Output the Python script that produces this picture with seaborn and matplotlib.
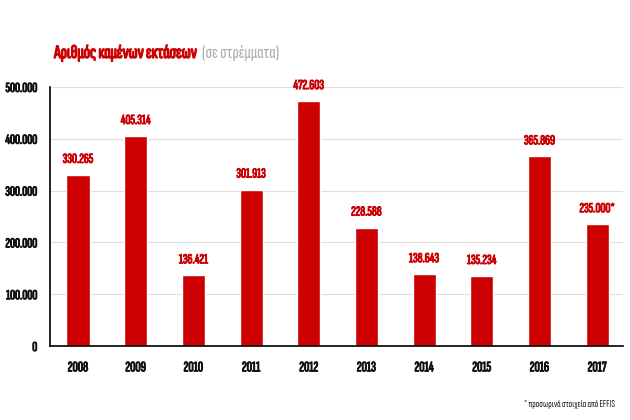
import matplotlib
matplotlib.use("Agg")
import matplotlib.pyplot as plt
import matplotlib.patheffects as pe
import seaborn as sns
import pandas as pd

years = ["2008", "2009", "2010", "2011", "2012", "2013", "2014", "2015", "2016", "2017"]
values = [330265, 405314, 136421, 301913, 472603, 228588, 138643, 135234, 365869, 235000]
labels = ["330.265", "405.314", "136.421", "301.913", "472.603", "228.588",
          "138.643", "135.234", "365.869", "235.000*"]
yticks = [0, 100000, 200000, 300000, 400000, 500000]
ytick_labels = ["0", "100.000", "200.000", "300.000", "400.000", "500.000"]

sns.set_style("white")
# narrow font, with condensed DejaVu as a fallback
plt.rcParams['font.family'] = ['Sofia Sans Extra Condensed', 'DejaVu Sans']
plt.rcParams['font.stretch'] = 'condensed'

red = "#cc0000"
dark = "#111111"
df = pd.DataFrame({"year": years, "value": values})


def thick(color, w=0.7):
    # fake a heavier weight than the font files offer
    return [pe.withStroke(linewidth=w, foreground=color)]


fig = plt.figure(figsize=(6.3, 4.2), dpi=100)
ax = fig.add_axes([0.079, 0.176, 0.91, 0.617])
sns.barplot(data=df, x="year", y="value", color=red, width=0.4, saturation=1, ax=ax)

ax.set_ylim(0, 500000)
ax.set_xlim(-0.49, 9.45)
ax.set_yticks(yticks)
ax.set_yticklabels(ytick_labels)
ax.yaxis.grid(True, color="#dddddd", linewidth=0.8)
ax.set_axisbelow(True)
for s in ["top", "right"]:
    ax.spines[s].set_visible(False)
ax.spines["left"].set_color("black")
ax.spines["bottom"].set_color("black")
ax.spines["left"].set_linewidth(1.2)
ax.spines["bottom"].set_linewidth(1.2)
ax.set_xlabel("")
ax.set_ylabel("")
ax.tick_params(axis="y", length=0, labelsize=10, pad=9)
ax.tick_params(axis="x", length=0, labelsize=10.5, pad=11)
for t in ax.get_xticklabels() + ax.get_yticklabels():
    t.set_fontweight("bold")
    t.set_color(dark)
    t.set_path_effects(thick(dark))

for i, (v, lab) in enumerate(zip(values, labels)):
    ax.annotate(lab, (i, v), xytext=(0, 6.5), textcoords="offset points",
                ha="center", va="bottom", color=red, fontsize=10, fontweight="bold",
                path_effects=thick(red))

title = fig.text(0.086, 0.862, "Αριθμός καμένων εκτάσεων", color=red, fontsize=13.5,
                 fontweight="bold", ha="left", va="baseline", path_effects=thick(red, 0.9))
ax.annotate("(σε στρέμματα)", xy=(1, 0), xycoords=title, xytext=(4, 0),
            textcoords="offset points", color="#aaaaaa", fontsize=13.5,
            ha="left", va="bottom", annotation_clip=False)
fig.text(0.976, 0.038, "* προσωρινά στοιχεία από EFFIS", color="#222222", fontsize=7.5,
         ha="right", va="center")

fig.savefig("out.png", dpi=100)
